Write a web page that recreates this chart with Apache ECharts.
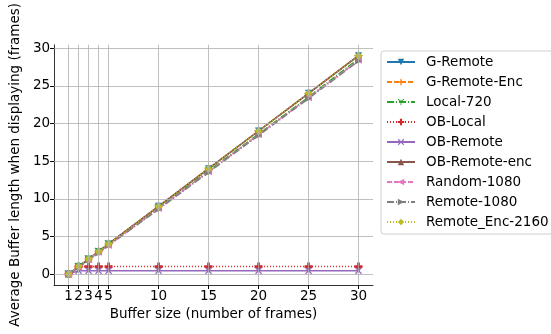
<!DOCTYPE html>
<html>
<head>
<meta charset="utf-8">
<script src="https://cdn.jsdelivr.net/npm/echarts@6/dist/echarts.min.js"></script>
<style>
  html, body { margin: 0; padding: 0; background: #fff; }
  #chart { width: 551px; height: 334px; }
</style>
</head>
<body>
<div id="chart"></div>
<script>
const bufferSizes = [1, 2, 3, 4, 5, 10, 15, 20, 25, 30]
const yTicks = [0, 5, 10, 15, 20, 25, 30]

const gRemote = [0, 1, 2, 3, 4, 9, 14, 19, 24, 29]
const gRemoteEnc = [0, 1, 2, 3, 4, 9, 14, 19, 24, 29]
const local720 = [0, 1, 2, 3, 4, 8.8, 13.7, 18.6, 23.5, 28.6]
const obLocal = [0, 1, 1, 1, 1, 1, 1, 1, 1, 1]
const obRemote = [0, 0.45, 0.45, 0.45, 0.45, 0.45, 0.45, 0.45, 0.45, 0.45]
const obRemoteEnc = [0, 1, 2, 3, 4, 9, 14, 19, 24, 29]
const random1080 = [0, 0.9, 1.9, 2.9, 3.8, 8.7, 13.6, 18.5, 23.4, 28.4]
const remote1080 = [0, 0.9, 1.9, 2.8, 3.8, 8.6, 13.5, 18.4, 23.3, 28.3]
const remoteEnc2160 = [0, 1, 2, 3, 4, 9, 14, 19, 24, 29]

const seriesNames = ['G-Remote', 'G-Remote-Enc', 'Local-720', 'OB-Local', 'OB-Remote',
  'OB-Remote-enc', 'Random-1080', 'Remote-1080', 'Remote_Enc-2160']
const seriesValues = [gRemote, gRemoteEnc, local720, obLocal, obRemote,
  obRemoteEnc, random1080, remote1080, remoteEnc2160]

const colors = ['#1f77b4', '#ff7f0e', '#2ca02c', '#d62728', '#9467bd',
  '#8c564b', '#e377c2', '#7f7f7f', '#bcbd22']
const lineTypes = ['solid', [5, 2], [7, 2, 1, 2], [1, 2], 'solid',
  'solid', [5, 2], [7, 2, 1, 2], [1, 2]]

const plusPath = 'path://M-1,-3H1V-1H3V1H1V3H-1V1H-3V-1H-1Z'
const xPath = 'path://M-3,-2.2L-2.2,-3L0,-0.8L2.2,-3L3,-2.2L0.8,0L3,2.2L2.2,3L0,0.8L-2.2,3L-3,2.2L-0.8,0Z'
const triDown = 'path://M-0.4,0V-3H0.4V0L3,1.5L2.6,2.2L0,0.7L-2.6,2.2L-3,1.5Z'
const starPath = 'path://M-0.5,-3L0.5,-3L0.7,-0.7L3,-0.5L3,0.5L0.7,0.7L0.5,3L-0.5,3L-0.7,0.7L-3,0.5L-3,-0.5L-0.7,-0.7Z'
const symbols = [
  { symbol: 'triangle', size: 7, rotate: 180 },
  { symbol: starPath, size: 8, rotate: 0 },
  { symbol: triDown, size: 8, rotate: 180 },
  { symbol: plusPath, size: 8, rotate: 0 },
  { symbol: xPath, size: 7, rotate: 0 },
  { symbol: 'triangle', size: 7, rotate: 0 },
  { symbol: 'triangle', size: 7, rotate: 90 },
  { symbol: 'triangle', size: 7, rotate: -90 },
  { symbol: 'diamond', size: [7, 10], rotate: 0 }
]

const font = 'DejaVu Sans'
const fs = 13.5

const series = seriesNames.map((name, i) => ({
  name: name,
  type: 'line',
  data: bufferSizes.map((x, j) => [x, seriesValues[i][j]]),
  symbol: symbols[i].symbol,
  symbolSize: symbols[i].size,
  symbolRotate: symbols[i].rotate,
  showAllSymbol: true,
  color: colors[i],
  lineStyle: { color: colors[i], width: 1.5, type: lineTypes[i] },
  itemStyle: { color: colors[i] },
  emphasis: { disabled: true },
  animation: false
}))

// grid lines only at the tick values
const gridLine = (data) => ({
  type: 'line',
  data: [],
  silent: true,
  markLine: {
    silent: true,
    symbol: 'none',
    label: { show: false },
    lineStyle: { color: '#b0b0b0', width: 0.8, type: 'solid' },
    data: data
  },
  z: 0,
  animation: false
})
series.push(gridLine(bufferSizes.map((x) => ({ xAxis: x }))))
series.push(gridLine(yTicks.map((y) => ({ yAxis: y }))))

const chart = echarts.init(document.getElementById('chart'))
chart.setOption({
  animation: false,
  backgroundColor: '#fff',
  textStyle: { fontFamily: font },
  grid: { left: 50, right: 178, top: 43, bottom: 49 },
  legend: {
    orient: 'vertical',
    left: 381,
    top: 51,
    itemWidth: 28,
    itemHeight: 8,
    itemGap: 6,
    data: seriesNames,
    textStyle: { fontFamily: font, fontSize: fs, lineHeight: 14, color: '#000', padding: [0, 0, 0, 6] },
    borderColor: '#d0d0d0',
    borderWidth: 1,
    borderRadius: 3,
    padding: [4, 8, 5, 5],
    backgroundColor: '#fff'
  },
  xAxis: {
    type: 'value',
    min: -0.45,
    max: 31.45,
    name: 'Buffer size (number of frames)',
    nameLocation: 'middle',
    nameGap: 21,
    nameTextStyle: { fontFamily: font, fontSize: fs, color: '#000' },
    axisLine: { show: true, onZero: false, lineStyle: { color: '#000', width: 0.8 } },
    axisTick: { show: true, customValues: bufferSizes, length: 4, lineStyle: { color: '#000' } },
    axisLabel: { customValues: bufferSizes, fontFamily: font, fontSize: fs, color: '#000', margin: 4 },
    splitLine: { show: false }
  },
  yAxis: {
    type: 'value',
    min: -1.45,
    max: 30.45,
    name: 'Average Buffer length when displaying (frames)',
    nameLocation: 'middle',
    nameGap: 29,
    nameTextStyle: { fontFamily: font, fontSize: fs, color: '#000' },
    axisLine: { show: true, onZero: false, lineStyle: { color: '#000', width: 0.8 } },
    axisTick: { show: true, customValues: yTicks, length: 4, lineStyle: { color: '#000' } },
    axisLabel: { customValues: yTicks, fontFamily: font, fontSize: fs, color: '#000', margin: 4 },
    splitLine: { show: false }
  },
  series: series
})
</script>
</body>
</html>
